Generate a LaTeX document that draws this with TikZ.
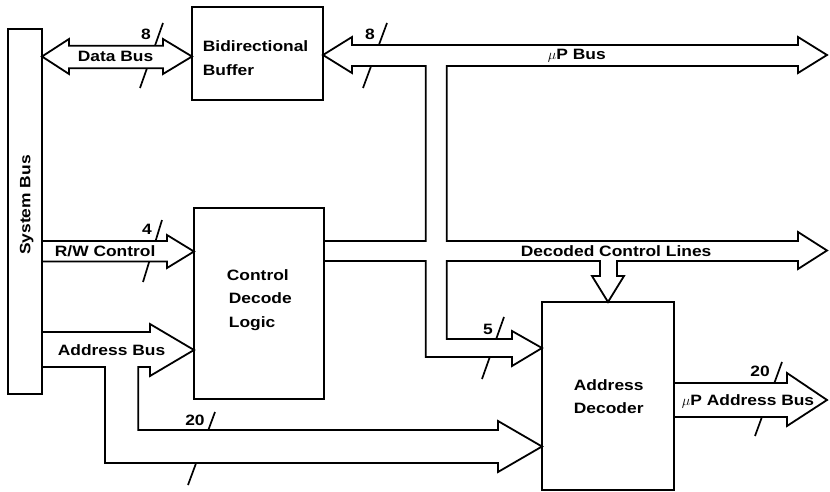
\documentclass[tikz,border=0pt]{standalone}
\usepackage{fontspec}
\setmainfont[FakeStretch=1.16]{Liberation Sans}
\begin{document}
\begin{tikzpicture}[x=1pt,y=-1pt,
  line width=1.8pt, line join=miter,
  box/.style={minimum width=#1, inner sep=0pt, outer sep=0pt, anchor=north west},
  bus/.style={draw, fill=white, line width=1.8pt, line join=miter},
  busmark/.style={draw, line width=1.7pt, line cap=butt},
  lbl/.style={font=\fontsize{15}{18}\selectfont\bfseries, inner sep=0pt, anchor=base west},
  num/.style={font=\fontsize{15}{18}\selectfont\bfseries, inner sep=0pt, anchor=base}]
\useasboundingbox (0,0) rectangle (830,492);

% blocks (outlines are drawn last)
\node[box=34pt, minimum height=365pt] (sys) at (8,29) {};
\node[box=131pt, minimum height=93pt] (buf) at (192,7) {};
\node[box=130pt, minimum height=191pt] (cdl) at (194,208) {};
\node[box=132pt, minimum height=188pt] (dec) at (542,302) {};

% bus-width marks (the buses hide their middle part)
\path[busmark] (140,88) -- (163,23);
\path[busmark] (363,88) -- (387,23);
\path[busmark] (143,282) -- (162,220);
\path[busmark] (482,379) -- (504,317);
\path[busmark] (188,485) -- (215,412);
\path[busmark] (755,436) -- (782,362);

% Data Bus: system bus <-> bidirectional buffer
\path[bus] (sys.east |- 0,56.5) -- (69,39) -- (69,45.7) -- (163,45.7) -- (163,39)
  -- (buf.west |- 0,56.5) -- (163,74) -- (163,68.3) -- (69,68.3) -- (69,74) -- cycle;

% uP bus, decoded control lines and their branches
\path[bus] (buf.east |- 0,55) -- (352,37) -- (352,45) -- (798,45) -- (798,37)
  -- (827,55) -- (798,73) -- (798,66) -- (446.7,66) -- (446.7,241) -- (798,241)
  -- (798,232) -- (827,250.5) -- (798,269) -- (798,261) -- (617,261) -- (617,276)
  -- (624,276) -- (dec.north) -- (592,276) -- (600,276) -- (600,261) -- (446.7,261)
  -- (446.7,339) -- (512,339) -- (512,331) -- (dec.west |- 0,348) -- (512,366)
  -- (512,357) -- (425.7,357) -- (425.7,261) -- (cdl.east |- 0,261)
  -- (cdl.east |- 0,241) -- (425.7,241) -- (425.7,66) -- (352,66) -- (352,73) -- cycle;

% R/W Control
\path[bus] (sys.east |- 0,241) -- (167,241) -- (167,235) -- (cdl.west |- 0,251.5)
  -- (167,268) -- (167,261.5) -- (sys.east |- 0,261.5);

% Address Bus with its branch to the address decoder
\path[bus] (sys.east |- 0,332) -- (150,332) -- (150,324) -- (cdl.west |- 0,350)
  -- (150,376) -- (150,367) -- (138.3,367) -- (138.3,430) -- (498,430) -- (498,421)
  -- (dec.west |- 0,446.5) -- (498,472) -- (498,463) -- (105,463) -- (105,367)
  -- (sys.east |- 0,367);

% uP Address Bus
\path[bus] (dec.east |- 0,383) -- (787,383) -- (787,373) -- (827,400) -- (787,426)
  -- (787,417) -- (dec.east |- 0,417);

% block outlines
\foreach \b in {sys,buf,cdl,dec}
  \draw (\b.north west) rectangle (\b.south east);

% texts
\node[num, rotate=90] (tsys) at (30.5,205) {System Bus};
\node[lbl] (tdata) at (77,62) {Data Bus};
\node[lbl] (tbuf1) at (202,52) {Bidirectional};
\node[lbl] (tbuf2) at (202,76) {Buffer};
\node[lbl] (tup) at (547,60) {$\mu$P Bus};
\node[lbl] (tdcl) at (520,256) {Decoded Control Lines};
\node[lbl] (trw) at (54,256.5) {R/W Control};
\node[lbl] (tab) at (57,355.5) {Address Bus};
\node[lbl] (tc1) at (226,280) {Control};
\node[lbl] (tc2) at (228,303.3) {Decode};
\node[lbl] (tc3) at (228,327) {Logic};
\node[lbl] (td1) at (573,390) {Address};
\node[lbl] (td2) at (573,413) {Decoder};
\node[lbl] (tuab) at (681,405) {$\mu$P Address Bus};
\node[num] (n1) at (146,40) {8};
\node[num] (n2) at (370,40) {8};
\node[num] (n3) at (147,234) {4};
\node[num] (n4) at (488,334) {5};
\node[num] (n5) at (195,425) {20};
\node[num] (n6) at (760,376.5) {20};
\end{tikzpicture}
\end{document}
